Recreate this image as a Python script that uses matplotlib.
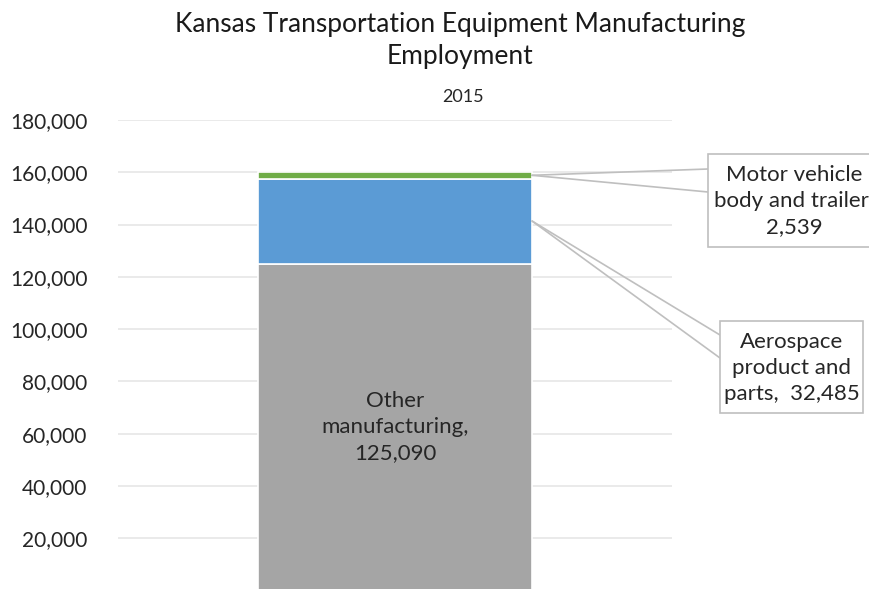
import matplotlib.pyplot as plt
from matplotlib.patches import Rectangle

plt.rcParams['font.family'] = ['Lato', 'DejaVu Sans']

# data
segments = ['Other manufacturing', 'Aerospace product and parts', 'Motor vehicle body and trailer']
values = [125090, 32485, 2539]
colors = ['#A5A5A5', '#5B9BD5', '#70AD47']
yticks = [20000, 40000, 60000, 80000, 100000, 120000, 140000, 160000, 180000]

W, H = 869, 589
fig = plt.figure(figsize=(W / 100, H / 100), dpi=100)
# axes in pixel terms: x 118..672, y(0)=590.5, y(180000)=120
ax = fig.add_axes([118 / W, 1 - 590.5 / H, (672 - 118) / W, (590.5 - 120) / H])

bottom = 0
mids = []
for v, c in zip(values, colors):
    ax.bar(0, v, width=0.495, bottom=bottom, color=c, edgecolor='white', linewidth=1.2, zorder=3)
    mids.append(bottom + v / 2)
    bottom += v

ax.set_xlim(-0.5, 0.5)
ax.set_ylim(0, 180000)
ax.set_yticks(yticks)
ax.set_yticklabels([f'{t:,}' for t in yticks], fontsize=15, color='#262626')
ax.set_xticks([])
ax.tick_params(axis='y', length=0, pad=22)
ax.grid(axis='y', color='#E6E6E6', linewidth=1.2, zorder=0)
for s in ax.spines.values():
    s.set_visible(False)

# label inside the gray segment
ax.text(0, mids[0], 'Other\nmanufacturing,\n125,090', ha='center', va='center',
        fontsize=16, color='#262626', linespacing=1.35, zorder=4)

# title
fig.text(460 / W, 1 - 12 / H, 'Kansas Transportation Equipment Manufacturing\nEmployment',
         ha='center', va='top', fontsize=19, color='#1a1a1a', linespacing=1.35)
fig.text(463 / W, 1 - 97 / H, '2015', ha='center', va='center', fontsize=13, color='#262626')

# callout boxes (figure pixels, origin bottom-left)
box_col = '#BFBFBF'
bar_right = 0.2475


def callout(mid, box, text, tx, ty, wedge_y):
    x0, y0, w, h = box
    fig.patches.append(Rectangle((x0 / W, y0 / H), w / W, h / H, transform=fig.transFigure,
                                 facecolor='white', edgecolor=box_col, linewidth=1.2))
    for wy in wedge_y:
        ax.annotate('', xy=(bar_right, mid), xycoords='data',
                    xytext=(x0, wy), textcoords='figure pixels',
                    arrowprops=dict(arrowstyle='-', color=box_col, lw=1.2, shrinkA=0, shrinkB=0),
                    annotation_clip=False)
    fig.text(tx / W, ty / H, text, ha='center', va='center', fontsize=16,
             color='#262626', linespacing=1.35)


# the motor vehicle box runs past the right edge, as in the source image
callout(mids[2], (708, H - 247, 220, 93), 'Motor vehicle\nbody and trailer,\n2,539',
        794, H - 201, [H - 169, H - 192])
callout(mids[1], (720, H - 413, 143, 92), 'Aerospace\nproduct and\nparts,  32,485',
        792, H - 368, [H - 335, H - 358])

fig.savefig('out.png', dpi=100)
